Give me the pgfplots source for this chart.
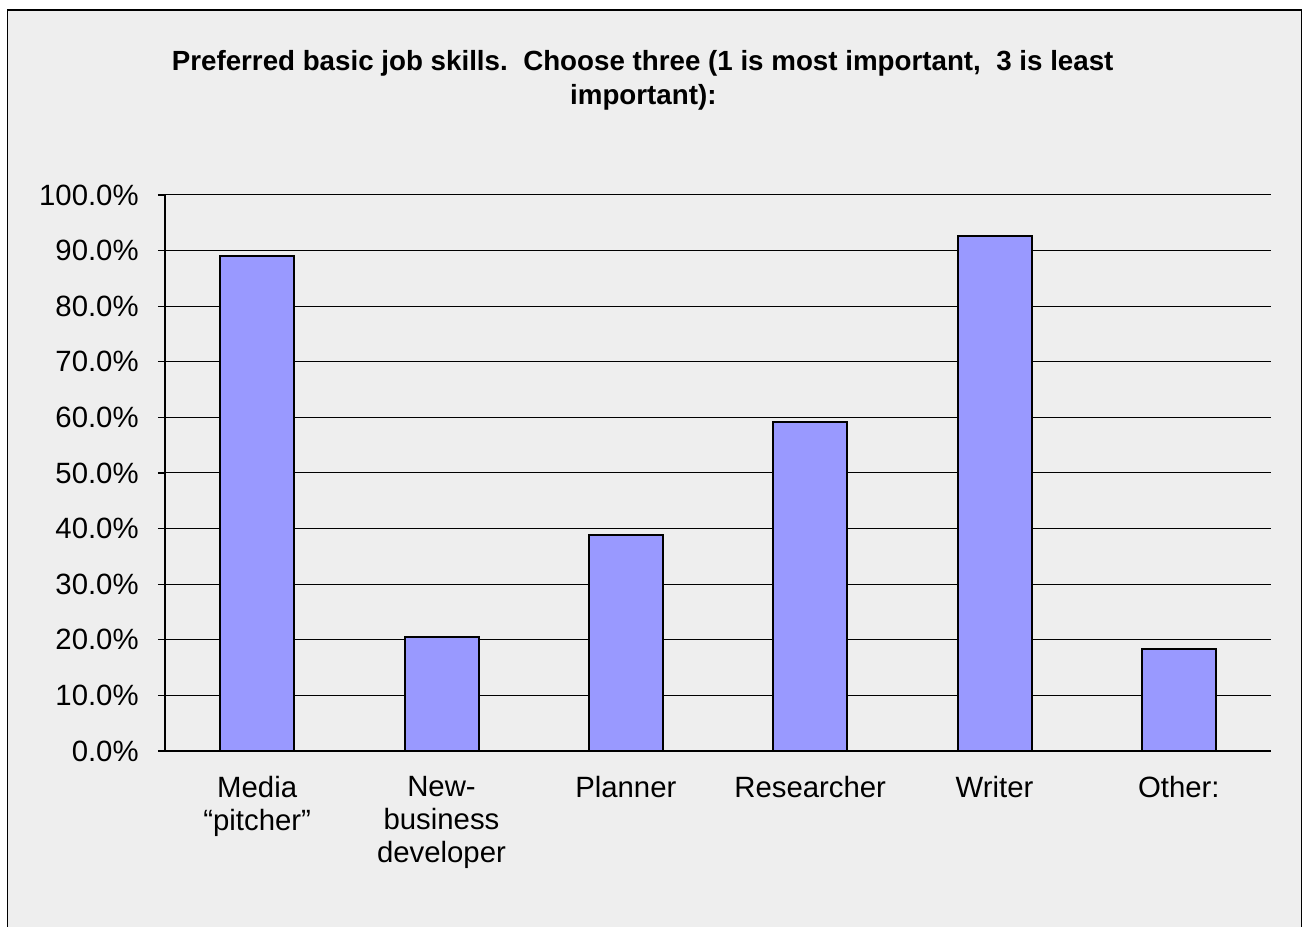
\documentclass[border=0pt]{standalone}
\usepackage{pgfplots}
\pgfplotsset{compat=1.18}
\usepackage{fontspec}
\setmainfont{Liberation Sans}
\definecolor{bgc}{RGB}{238,238,238}
\definecolor{barc}{RGB}{153,153,255}
\begin{document}
\begin{tikzpicture}
\useasboundingbox (0,0) rectangle (978pt,695.25pt);
\fill[white] (0,0) rectangle (978pt,695.25pt);
\fill[bgc] (5.6pt,-2pt) rectangle (976.2pt,687.9pt);
\draw[line width=1.1pt] (5.6pt,-2pt) -- (5.6pt,687.9pt) -- (976.2pt,687.9pt) -- (976.2pt,-2pt);
\node[anchor=base,inner sep=0pt,font=\bfseries\fontsize{20.8}{24}\selectfont] at (482pt,642pt) {Preferred basic job skills.\ \ Choose three (1 is most important,\ \ 3 is least};
\node[anchor=base,inner sep=0pt,font=\bfseries\fontsize{20.8}{24}\selectfont] at (482.5pt,616.5pt) {important):};
\begin{axis}[
  at={(123.75pt,132pt)}, anchor=south west,
  scale only axis, width=829.5pt, height=417pt,
  xmin=-0.5, xmax=5.5, ymin=0, ymax=100,
  axis x line*=bottom, axis y line*=left,
  axis line style={black, line width=0.8pt},
  ytick={0,10,...,100},
  yticklabels={0.0\%,10.0\%,20.0\%,30.0\%,40.0\%,50.0\%,60.0\%,70.0\%,80.0\%,90.0\%,100.0\%},
  ymajorgrids, grid style={black, line width=0.75pt},
  tick align=outside, major tick length=5.25pt,
  tick style={black, line width=0.8pt},
  xtick={0,1,2,3,4,5},
  xticklabels={{Media\\“pitcher”},{New-\\business\\developer},Planner,Researcher,Writer,Other:},
  x tick style={draw=none},
  extra x ticks={-0.5,0.5,1.5,2.5,3.5,4.5,5.5},
  extra x tick labels={},
  extra x tick style={grid=none, tick style={draw=black, line width=0.8pt}, major tick length=6pt},
  ticklabel style={font=\fontsize{22}{24.75}\selectfont},
  yticklabel style={xshift=-11pt},
  xticklabel style={align=center, yshift=-10pt},
  bar width=55.5pt,
]
\addplot[ybar, fill=barc, draw=black, line width=1.5pt] coordinates {
  (0,89.0) (1,20.5) (2,38.8) (3,59.2) (4,92.6) (5,18.3)
};
\end{axis}
\end{tikzpicture}
\end{document}
